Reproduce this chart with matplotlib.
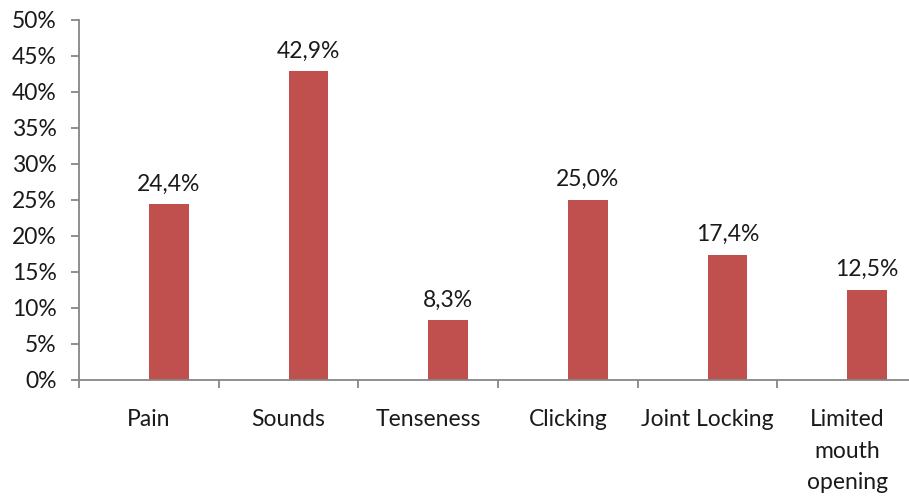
import matplotlib.pyplot as plt
import numpy as np

categories = ["Pain", "Sounds", "Tenseness", "Clicking", "Joint Locking", "Limited\nmouth\nopening"]
values = [24.4, 42.9, 8.3, 25.0, 17.4, 12.5]
value_labels = ["24,4%", "42,9%", "8,3%", "25,0%", "17,4%", "12,5%"]
y_ticks = [0, 5, 10, 15, 20, 25, 30, 35, 40, 45, 50]

plt.rcParams['font.family'] = ['Lato', 'DejaVu Sans']
fs = 16.5

fig = plt.figure(figsize=(9.09, 4.97), dpi=100)
# axes runs a bit past the right edge, as in the source image
ax = fig.add_axes([79 / 909, 1 - 380 / 497, 838 / 909, 360 / 497])

x = np.arange(len(categories))
ax.bar(x, values, width=0.286, align='edge', color='#C0504D', zorder=2)

for xi, v, lab in zip(x, values, value_labels):
    ax.annotate(lab, (xi + 0.143, v), xytext=(0, 7), textcoords='offset points',
                ha='center', va='bottom', fontsize=fs, color='#1a1a1a')

ax.set_xlim(-0.5, len(categories) - 0.5)
ax.set_ylim(0, 50)
ax.set_yticks(y_ticks)
ax.set_yticklabels([f"{t}%" for t in y_ticks])

ax.set_xticks(x)
ax.set_xticklabels(categories, linespacing=1.62)
ax.set_xticks(np.arange(len(categories) + 1) - 0.5, minor=True)

axis_gray = '#868686'
for side in ('top', 'right'):
    ax.spines[side].set_visible(False)
for side in ('left', 'bottom'):
    ax.spines[side].set_color(axis_gray)
    ax.spines[side].set_linewidth(1.3)

ax.tick_params(axis='y', direction='out', length=6, width=1.3, color=axis_gray,
               labelsize=fs, labelcolor='#1a1a1a', pad=10)
ax.tick_params(axis='x', which='major', length=0, labelsize=fs,
               labelcolor='#1a1a1a', pad=21)
ax.tick_params(axis='x', which='minor', direction='out', length=6, width=1.3,
               color=axis_gray)
for lbl in ax.get_xticklabels():
    lbl.set_verticalalignment('top')

fig.savefig('out.png', dpi=100)
plt.close(fig)
